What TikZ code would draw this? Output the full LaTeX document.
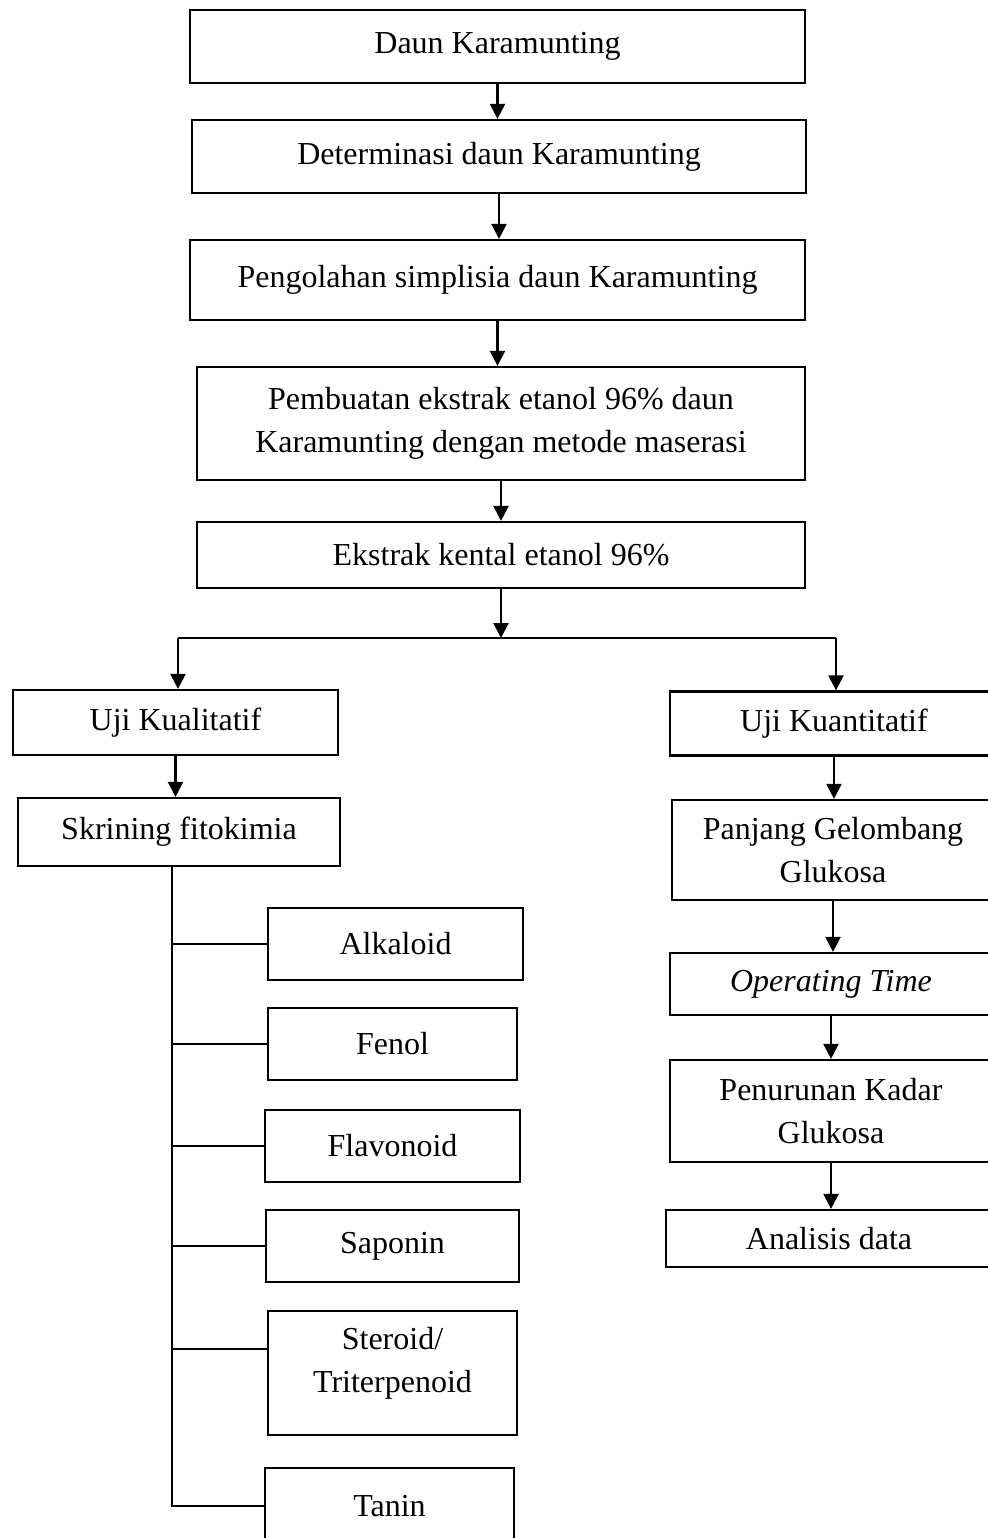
\documentclass[tikz,border=0pt]{standalone}
\usepackage{fontspec}
\setmainfont{Liberation Serif}
\usetikzlibrary{arrows.meta}
\begin{document}
\begin{tikzpicture}[x=0.5pt,y=-0.5pt,
    hop/.style 2 args={draw,line width=1.1pt,minimum width=#1*0.5pt,minimum height=#2*0.5pt,inner sep=0pt,align=center,font=\fontsize{16}{21.5}\selectfont},
    mui/.style={line width=1.1pt,-{Triangle[length=7.5pt,width=7.5pt]}},
    nhanh/.style={line width=0.6pt}]
    \useasboundingbox (0,0) rectangle (988,1538);
    \clip (0,0) rectangle (988,1538);
    % cot giua
    \path
    (497.5,46.5) node[hop={615}{73}] (n1) {Daun Karamunting}
    (499,156.5) node[hop={614}{73}] (n2) {Determinasi daun Karamunting}
    (497.5,280) node[hop={615}{80}] (n3) {Pengolahan simplisia daun Karamunting}
    (501,423.5) node[hop={608}{113}] (n4) {Pembuatan ekstrak etanol 96\% daun\\Karamunting dengan metode maserasi}
    (501,555) node[hop={608}{66}] (n5) {Ekstrak kental etanol 96\%}
    ;
    % hai nhanh
    \path
    (175.5,722.5) node[hop={325}{65}] (kual) {Uji Kualitatif}
    (179,832) node[hop={322}{68}] (skr) {Skrining fitokimia}
    (834,723.5) node[hop={328}{64}] (kuan) {Uji Kuantitatif}
    (833,850) node[hop={322}{100}] (pjg) {Panjang Gelombang\\Glukosa}
    (831,984) node[hop={322}{62}] (opt) {\textit{Operating Time}}
    (831,1111) node[hop={322}{102}] (pen) {Penurunan Kadar\\Glukosa}
    (829,1238.5) node[hop={326}{57}] (ana) {Analisis data}
    ;
    % fitokimia
    \path
    (395.5,944) node[hop={255}{72}] (alk) {Alkaloid}
    (392.5,1044) node[hop={249}{72}] (fen) {Fenol}
    (392.5,1146) node[hop={255}{72}] (fla) {Flavonoid}
    (392.5,1246) node[hop={253}{72}] (sap) {Saponin}
    (392.5,1373) node[hop={249}{124},text depth=13pt] (ste) {Steroid/\\Triterpenoid}
    (389.5,1506) node[hop={249}{76}] (tan) {Tanin}
    ;
    \coordinate (cl) at (178,638);
    \coordinate (cr) at (836,638);
    \coordinate (tr) at (172,0);
    \foreach \a/\b in {n1/n2,n2/n3,n3/n4,n4/n5,kual/skr,kuan/pjg,pjg/opt,opt/pen,pen/ana}
    \draw[mui] (\a.south)--(\a.south |- \b.north);
    \draw[mui] (n5.south)--(n5.south |- cl);
    \draw[nhanh] (cl)--(cr);
    \draw[mui] (cl)--(cl |- kual.north);
    \draw[mui] (cr)--(cr |- kuan.north);
    \draw[nhanh] (tr |- skr.south) |- (tan.west);
    \foreach \b in {alk,fen,fla,sap}
    \draw[nhanh] (tr |- \b.west)--(\b.west);
    \draw[nhanh] ([yshift=12pt]ste.west -| tr)--([yshift=12pt]ste.west);
\end{tikzpicture}
\end{document}
